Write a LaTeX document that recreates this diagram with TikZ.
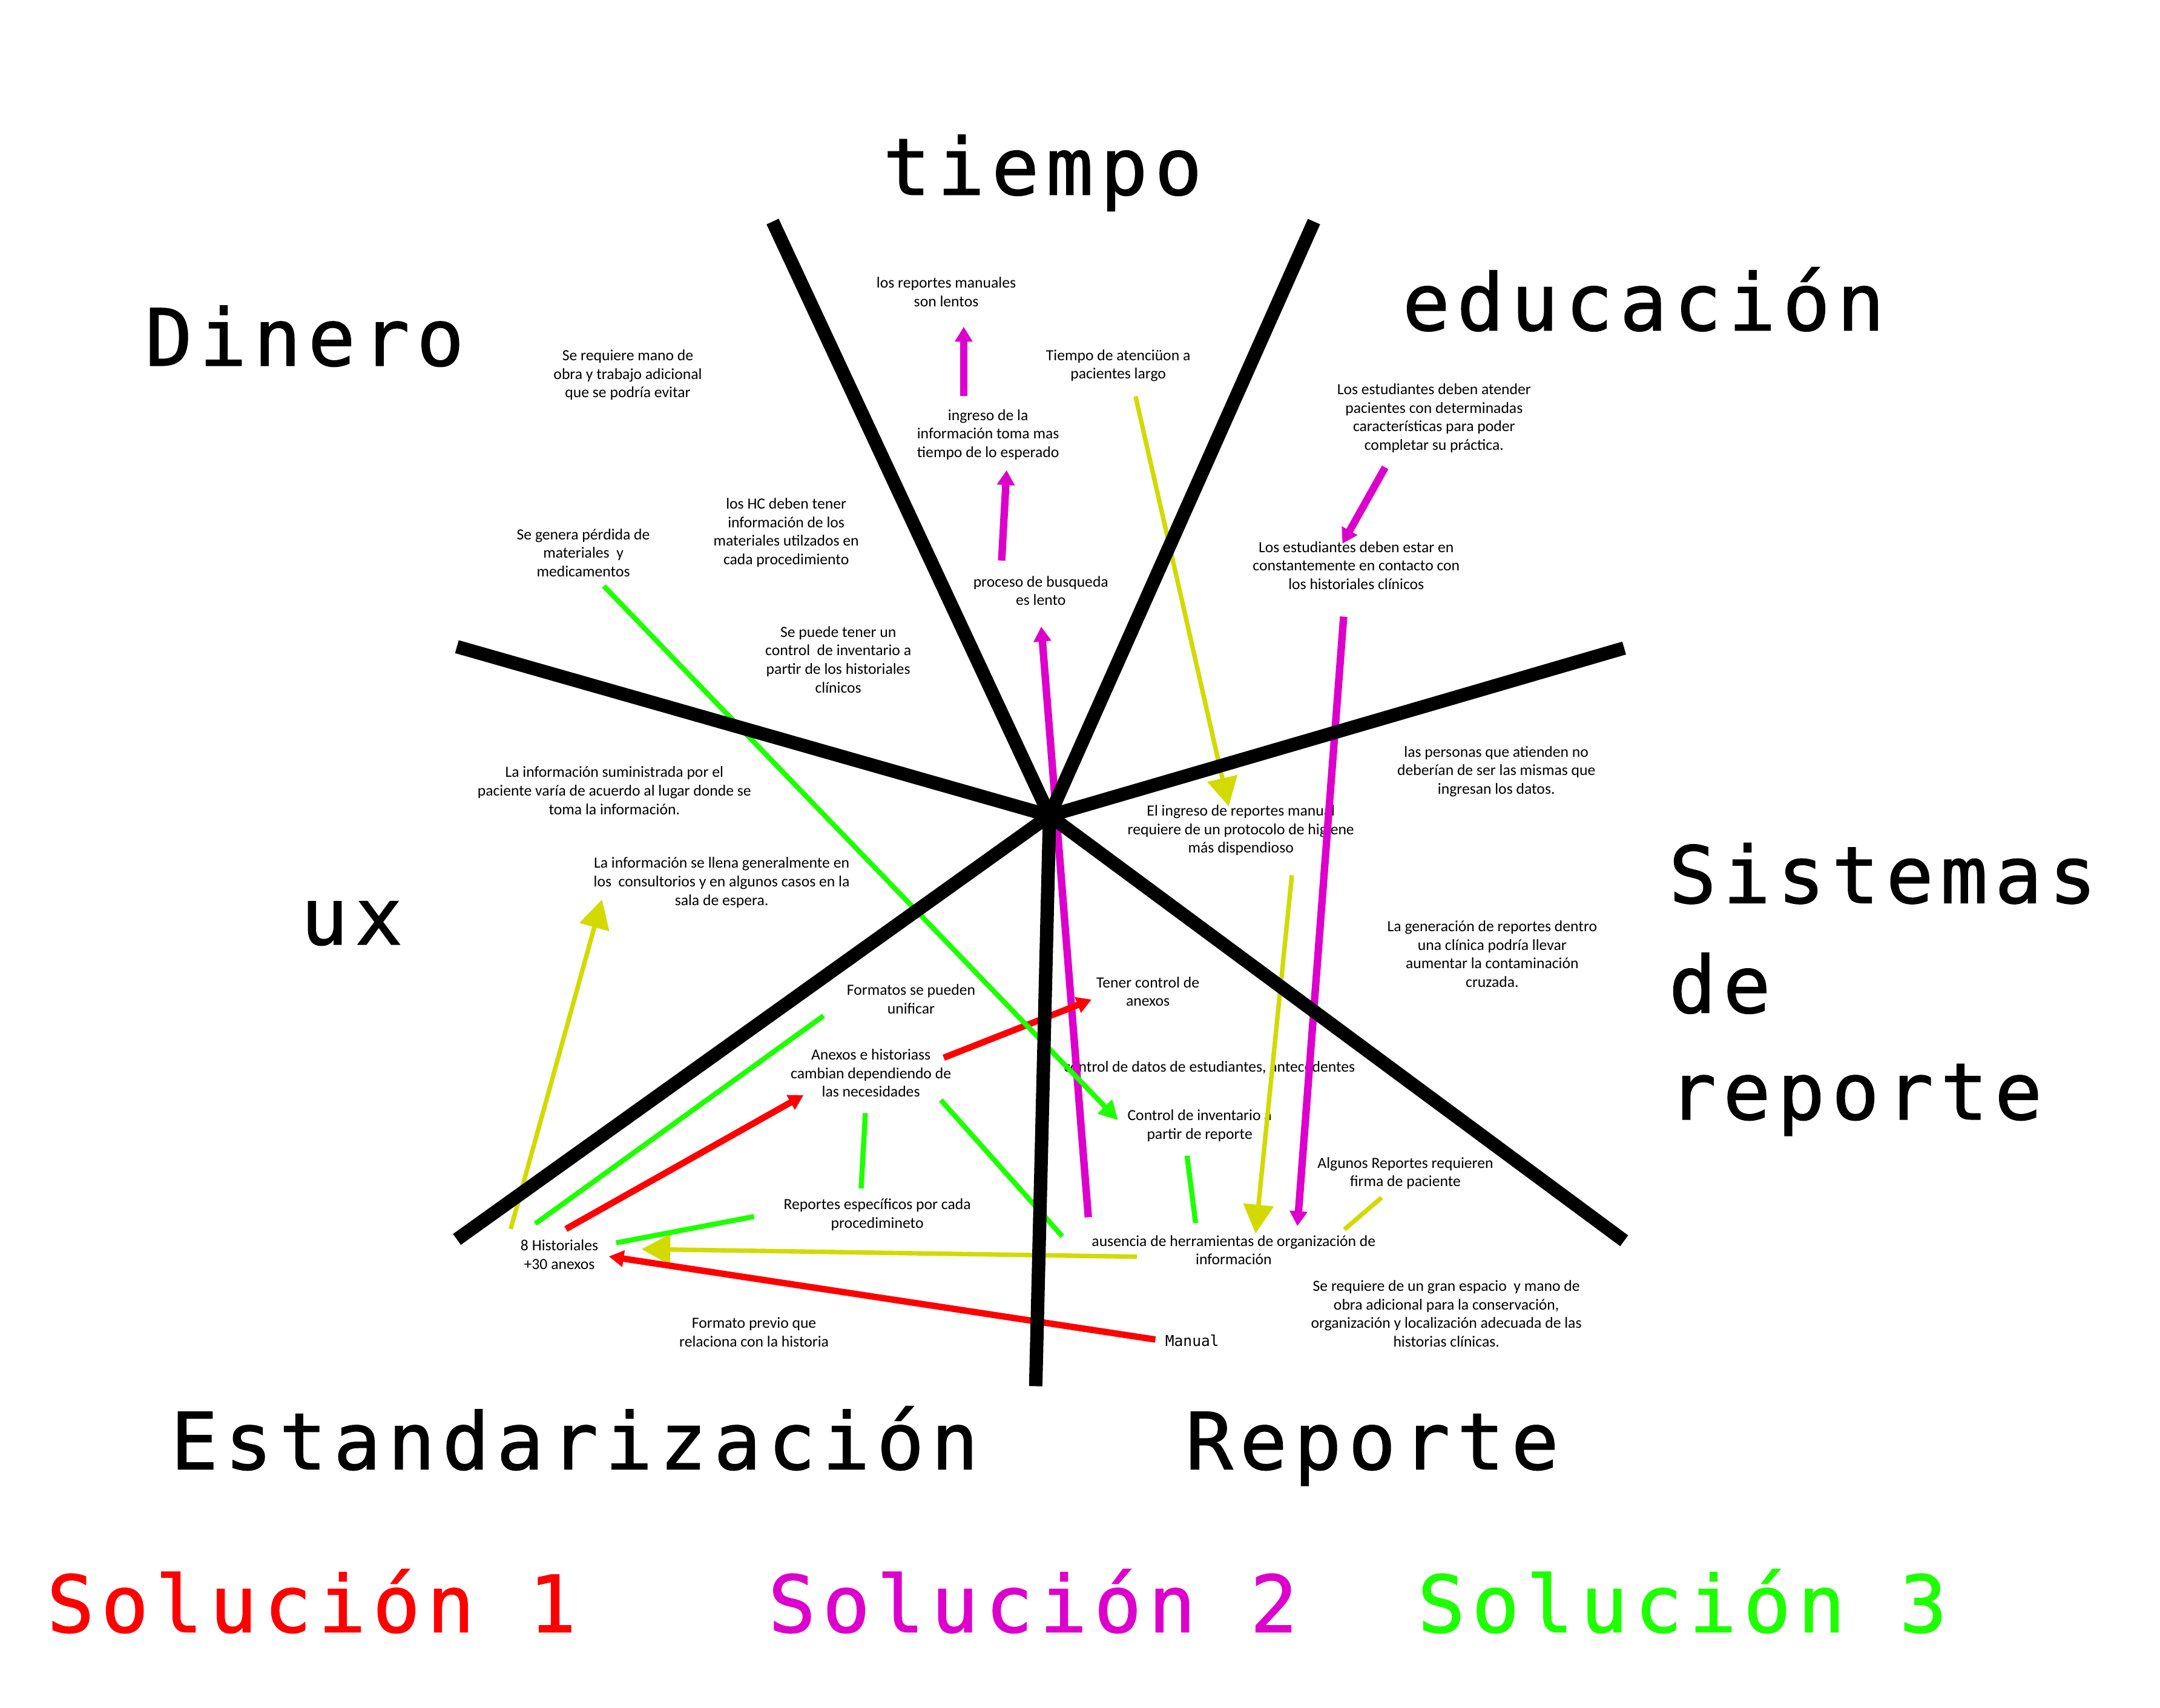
\documentclass[tikz,border=0pt]{standalone}
\usepackage{fontspec}
\usepackage{tikz}
\usetikzlibrary{arrows.meta}
\newfontfamily\notefont{Carlito}
\newfontfamily\causefont[LetterSpace=8.8,FakeBold=1.2]{DejaVu Sans Mono}
\newfontfamily\codefont{DejaVu Sans Mono}
\definecolor{solone}{RGB}{255,0,0}
\definecolor{soltwo}{RGB}{221,0,204}
\definecolor{solthree}{RGB}{30,255,0}
\definecolor{lolive}{RGB}{210,218,0}
\pgfdeclarelayer{edgelayer}
\pgfdeclarelayer{nodelayer}
\pgfsetlayers{nodelayer,edgelayer,main}
\tikzstyle{note}=[inner sep=0pt, align=center, font=\notefont\fontsize{7.3}{8.7}\selectfont]
\tikzstyle{cause}=[inner sep=0pt, anchor=base, font=\causefont\fontsize{37}{50}\selectfont]
\tikzstyle{spoke}=[-, line width=6.3pt, black]
\tikzstyle{oneline}=[-, solone, line width=3pt]
\tikzstyle{onearrow}=[oneline, -{Triangle[length=7pt,width=7.5pt]}]
\tikzstyle{twoarrow}=[-, soltwo, line width=3.5pt, -{Triangle[length=7pt,width=8pt]}]
\tikzstyle{threeline}=[-, solthree, line width=2.4pt]
\tikzstyle{threearrow}=[threeline, -{Triangle[length=9pt,width=9pt]}]
\tikzstyle{yline}=[-, lolive, line width=2.1pt]
\tikzstyle{yarrow}=[yline, -{Triangle[length=13.5pt,width=14pt]}]

\begin{document}
\begin{tikzpicture}[x=0.0228718cm, y=-0.0228718cm]
	\useasboundingbox (0,0) rectangle (1560,1233);
	\begin{pgfonlayer}{nodelayer}
		% causas
		\node [style=cause] (tiempo) at (753,140.6) {tiempo};
		\node [style=cause] (dinero) at (220,264) {Dinero};
		\node [style=cause] (educ) at (1187,238.5) {educación};
		\node [style=cause, anchor=base west] (sist) at (1205,652) {Sistemas};
		\node [style=cause, anchor=base west] (sistde) at (1205,731.3) {de};
		\node [style=cause, anchor=base west] (sistrep) at (1205,808.3) {reporte};
		\node [style=cause] (ux) at (254,682) {ux};
		\node [style=cause] (estand) at (415,1061) {Estandarización};
		\node [style=cause] (reporte) at (991,1061) {Reporte};
		\node [style=cause, text=solone] (solA) at (225,1178.6) {Solución 1};
		\node [style=cause, text=soltwo] (solB) at (746,1178.6) {Solución 2};
		\node [style=cause, text=solthree] (solC) at (1215,1178.6) {Solución 3};

		% notas
		\node [style=note] (lentos) at (683.4,210.9) {los reportes manuales\\son lentos};
		\node [style=note] (manoobra) at (453.4,270.8) {Se requiere mano de\\obra y trabajo adicional\\que se podría evitar};
		\node [style=note] (atencion) at (807.6,264) {Tiempo de atenciüon a\\pacientes largo};
		\node [style=note] (ingreso) at (713.6,313.9) {ingreso de la\\información toma mas\\tiempo de lo esperado};
		\node [style=note] (atender) at (1035.7,301.9) {Los estudiantes deben atender\\pacientes con determinadas\\características para poder\\completar su práctica.};
		\node [style=note] (hc) at (567.8,384.6) {los HC deben tener\\información de los\\materiales utilzados en\\cada procedimiento};
		\node [style=note] (perdida) at (421.3,399.1) {Se genera pérdida de\\materiales \ y\\medicamentos};
		\node [style=note] (busqueda) at (751.7,426.5) {proceso de busqueda\\es lento};
		\node [style=note] (contacto) at (979.5,408.4) {Los estudiantes deben estar en\\constantemente en contacto con\\los historiales clínicos};
		\node [style=note] (inventario) at (605.4,476.3) {Se puede tener un\\control \ de inventario a\\partir de los historiales\\clínicos};
		\node [style=note] (personas) at (1080.7,557.1) {las personas que atienden no\\deberían de ser las mismas que\\ingresan los datos.};
		\node [style=note] (lugar) at (443.7,570.9) {La información suministrada por el\\paciente varía de acuerdo al lugar donde se\\toma la información.};
		\node [style=note] (higiene) at (896.2,599.5) {El ingreso de reportes manual\\requiere de un protocolo de higiene\\más dispendioso};
		\node [style=note] (llena) at (521.2,637.3) {La información se llena generalmente en\\los \ consultorios y en algunos casos en la\\sala de espera.};
		\node [style=note] (contamina) at (1077.7,689) {La generación de reportes dentro\\una clínica podría llevar\\aumentar la contaminación\\cruzada.};
		\node [style=note] (control) at (829,716) {Tener control de\\anexos};
		\node [style=note] (formatos) at (658,721.4) {Formatos se pueden\\unificar};
		\node [style=note] (anexos) at (629,775) {Anexos e historiass\\cambian dependiendo de\\las necesidades};
		\node [style=note] (datos) at (873.5,771) {control de datos de estudiantes, antecedentes};
		\node [style=note] (invrep) at (866.4,812.8) {Control de inventario a\\partir de reporte};
		\node [style=note] (firma) at (1015,847.2) {Algunos Reportes requieren\\firma de paciente};
		\node [style=note] (especif) at (633.6,877.2) {Reportes específicos por cada\\procedimineto};
		\node [style=note] (ausencia) at (891,902.8) {ausencia de herramientas de organización de\\información};
		\node [style=note] (hist) at (404,906) {8 Historiales\\+30 anexos};
		\node [style=note] (espacio) at (1044.6,948.6) {Se requiere de un gran espacio \ y mano de\\obra adicional para la conservación,\\organización y localización adecuada de las\\historias clínicas.};
		\node [style=note] (previo) at (544.6,962) {Formato previo que\\relaciona con la historia};
		\node [inner sep=0pt, font=\codefont\fontsize{7}{8}\selectfont] (manual) at (861,968) {Manual};

		% extremos de las flechas
		\coordinate (ingresoN) at (696,286);
		\coordinate (lentosS) at (696,236);
		\coordinate (busqN) at (723.4,404.8);
		\coordinate (ingresoS) at (727,339.5);
		\coordinate (ausenN) at (786,879);
		\coordinate (busqS) at (752,452.5);
		\coordinate (atenderS) at (1000.4,337.5);
		\coordinate (contactoN) at (969.5,392.6);
		\coordinate (contactoS) at (970.4,445.3);
		\coordinate (ausenNE) at (937,885.4);
		\coordinate (atencionS) at (820.1,286.2);
		\coordinate (higieneN) at (887.4,582.3);
		\coordinate (higieneS) at (933,632);
		\coordinate (ausenNN) at (906.8,890.7);
		\coordinate (firmaS) at (997.8,864.8);
		\coordinate (ausenE) at (971,887.8);
		\coordinate (ausenW) at (821.1,907.5);
		\coordinate (histE) at (463.3,902);
		\coordinate (histN) at (368.8,887.5);
		\coordinate (llenaS) at (434.8,649.5);
		\coordinate (histNE) at (408.7,887.5);
		\coordinate (anexosW) at (580.4,790.8);
		\coordinate (anexosE) at (681.6,763.8);
		\coordinate (controlW) at (788.4,721.8);
		\coordinate (manualW) at (834.4,967.3);
		\coordinate (histEE) at (439.7,907.3);
		\coordinate (perdidaS) at (436.1,423.2);
		\coordinate (invrepW) at (807.5,809);
		\coordinate (histNN) at (386.6,883.7);
		\coordinate (formatosS) at (594.8,733.5);
		\coordinate (histR) at (445,897.5);
		\coordinate (especifW) at (544.6,878.5);
		\coordinate (anexosS) at (625,803.8);
		\coordinate (especifN) at (621.9,858.2);
		\coordinate (anexosSE) at (679.5,794.4);
		\coordinate (ausenNW) at (767.2,892.8);
		\coordinate (invrepS) at (857.3,834.6);
		\coordinate (ausenNM) at (863.5,883.2);

		% espina
		\coordinate (C) at (758,589);
		\coordinate (TL) at (558,160);
		\coordinate (TR) at (949,160);
		\coordinate (L) at (330,467);
		\coordinate (R) at (1173,468);
		\coordinate (BL) at (330,895);
		\coordinate (BR) at (1173,896);
		\coordinate (B) at (748,1001);
	\end{pgfonlayer}
	\begin{pgfonlayer}{edgelayer}
		\draw [style=twoarrow] (ingresoN) to (lentosS);
		\draw [style=twoarrow] (busqN) to (ingresoS);
		\draw [style=twoarrow] (ausenN) to (busqS);
		\draw [style=twoarrow] (atenderS) to (contactoN);
		\draw [style=twoarrow] (contactoS) to (ausenNE);
		\draw [style=yarrow] (atencionS) to (higieneN);
		\draw [style=yarrow] (higieneS) to (ausenNN);
		\draw [style=yline] (firmaS) to (ausenE);
		\draw [style=yarrow] (ausenW) to (histE);
		\draw [style=yarrow] (histN) to (llenaS);
		\draw [style=onearrow] (histNE) to (anexosW);
		\draw [style=onearrow] (anexosE) to (controlW);
		\draw [style=onearrow] (manualW) to (histEE);
		\draw [style=threearrow] (perdidaS) to (invrepW);
		\draw [style=threeline] (histNN) to (formatosS);
		\draw [style=threeline] (histR) to (especifW);
		\draw [style=threeline] (anexosS) to (especifN);
		\draw [style=threeline] (anexosSE) to (ausenNW);
		\draw [style=threeline] (invrepS) to (ausenNM);
	\end{pgfonlayer}
	\foreach \e in {TL,TR,L,R,BL,BR,B}
		\draw [style=spoke] (C) to (\e);
\end{tikzpicture}
\end{document}
